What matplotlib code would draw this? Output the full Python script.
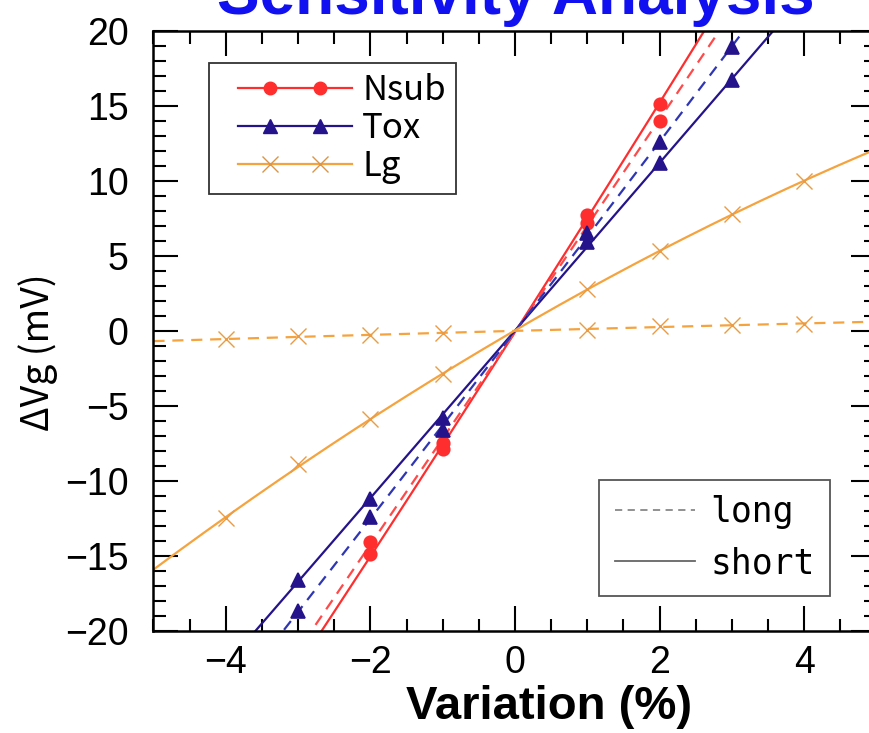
import numpy as np
import matplotlib
matplotlib.use("Agg")
import matplotlib.pyplot as plt
from matplotlib.lines import Line2D
from matplotlib.legend_handler import HandlerLine2D
from matplotlib.ticker import MultipleLocator

# variation (%) and dVg (mV) for each parameter, long / short channel
x_nsub = [-2, -1, 1, 2]
nsub_short = [-14.9, -7.9, 7.7, 15.1]
nsub_long = [-14.1, -7.5, 7.2, 14.0]

x_tox = [-3, -2, -1, 1, 2, 3]
tox_short = [-16.6, -11.2, -5.8, 5.9, 11.2, 16.7]
tox_long = [-18.7, -12.4, -6.6, 6.5, 12.6, 18.9]

x_lg = [-4, -3, -2, -1, 1, 2, 3, 4]
lg_short = [-12.5, -8.9, -5.9, -2.9, 2.8, 5.3, 7.8, 10.0]
lg_long = [-0.55, -0.36, -0.27, -0.13, 0.07, 0.33, 0.41, 0.47]

RED = "#ff2e2e"
NAVY = "#24138a"
ORANGE = "#f5a33e"


class FullLineHandler(HandlerLine2D):
    # line across the handle (after a small lead-in gap), two markers set in from the ends
    def __init__(self, lead=0.0, **kw):
        super().__init__(**kw)
        self._lead = lead

    def create_artists(self, legend, orig_handle, xdescent, ydescent,
                       width, height, fontsize, trans):
        line = super().create_artists(legend, orig_handle, xdescent, ydescent,
                                      width, height, fontsize, trans)[0]
        x0 = -xdescent + self._lead * fontsize
        x1 = -xdescent + width
        pad = self._marker_pad * fontsize
        y = (height - ydescent) / 2
        line.set_data([x0, x0 + pad, x1 - pad, x1], [y] * 4)
        line.set_markevery([1, 2])
        return [line]


fig = plt.figure(figsize=(8.7, 7.33), dpi=100)
ax = fig.add_axes([0.1764, 0.1392, 0.831, 0.8186])

xs = np.linspace(-5, 5, 201)


def curve(x, y):
    # smooth trend through the points and the origin
    xx = np.r_[x, 0.0]
    yy = np.r_[y, 0.0]
    return np.polyval(np.polyfit(xx, yy, 2), xs)


series = [
    (x_nsub, nsub_long, nsub_short, RED, "#ff4a4a", "o", 9),
    (x_tox, tox_long, tox_short, NAVY, "#2f36b4", "^", 10),
    (x_lg, lg_long, lg_short, ORANGE, ORANGE, "x", 11),
]
for x, yl, ys, c, cd, m, ms in series:
    mkw = dict(marker=m, ms=ms, ls="none", color=c, mec=c, mew=1.2)
    if m == "x":
        mkw.update(color="#e99b45", mec="#e99b45", mew=1.0)
    ax.plot(xs, curve(x, ys), color=c, lw=1.6)
    ax.plot(xs, curve(x, yl), color=cd, lw=1.6, ls=(0, (5, 3.5)))
    ax.plot(x, ys, **mkw)
    ax.plot(x, yl, **mkw)

ax.set_xlim(-5, 5)
ax.set_ylim(-20, 20)
ax.xaxis.set_major_locator(MultipleLocator(2))
ax.xaxis.set_minor_locator(MultipleLocator(0.5))
ax.yaxis.set_major_locator(MultipleLocator(5))
ax.yaxis.set_minor_locator(MultipleLocator(1))
ax.tick_params(which="both", direction="in", top=True, right=True, width=1.5)
ax.tick_params(which="major", length=18)
ax.tick_params(which="minor", length=9)
ax.tick_params(axis="y", which="major", labelsize=27, pad=18)
ax.tick_params(axis="x", which="major", labelsize=27, pad=10)
for lab in ax.get_xticklabels() + ax.get_yticklabels():
    lab.set_family("Liberation Sans")
for s in ax.spines.values():
    s.set_linewidth(1.8)

ax.set_ylabel("ΔVg (mV)", fontsize=27, family=["Noto Sans CJK JP"])
ax.yaxis.set_label_coords(-0.132, 0.465)
fig.text(549 / 870, 0.035, "Variation (%)", ha="center", va="center",
         fontsize=34, fontweight="bold", family="Liberation Sans")
fig.text(516 / 870, 0.981, "Sensitivity Analysis", ha="center", va="baseline",
         fontsize=46, fontweight="bold", family="Liberation Sans", color="#1010f0")

# parameter legend
h1 = [
    Line2D([], [], color=RED, lw=1.6, marker="o", ms=9),
    Line2D([], [], color=NAVY, lw=1.6, marker="^", ms=10),
    Line2D([], [], color=ORANGE, lw=1.6, marker="x", ms=11, mec="#d9954a"),
]
leg1 = ax.legend(h1, ["Nsub", "Tox", "Lg"], loc="upper left",
                 bbox_to_anchor=(0.077, 0.947), numpoints=2,
                 handler_map={Line2D: FullLineHandler(lead=0.54, marker_pad=0.92)},
                 prop={"family": "Noto Sans CJK JP", "size": 25},
                 handlelength=3.82, handletextpad=0.29, labelspacing=0.08,
                 borderpad=0.3, borderaxespad=0, fancybox=False,
                 edgecolor="#333333", framealpha=1)
leg1.get_frame().set_linewidth(1.3)
ax.add_artist(leg1)

# channel length legend
h2 = [
    Line2D([], [], color="#888888", lw=1.3, ls=(0, (4, 3))),
    Line2D([], [], color="#666666", lw=1.3),
]
leg2 = ax.legend(h2, ["long", "short"], loc="lower right",
                 bbox_to_anchor=(0.936, 0.058),
                 prop={"family": "DejaVu Sans Mono", "size": 25},
                 handlelength=2.3, handletextpad=0.45, labelspacing=0.5,
                 borderpad=0.45, borderaxespad=0, fancybox=False,
                 edgecolor="#555555", framealpha=1)
leg2.get_frame().set_linewidth(1.3)

fig.savefig("out.png", dpi=100, facecolor="white")
